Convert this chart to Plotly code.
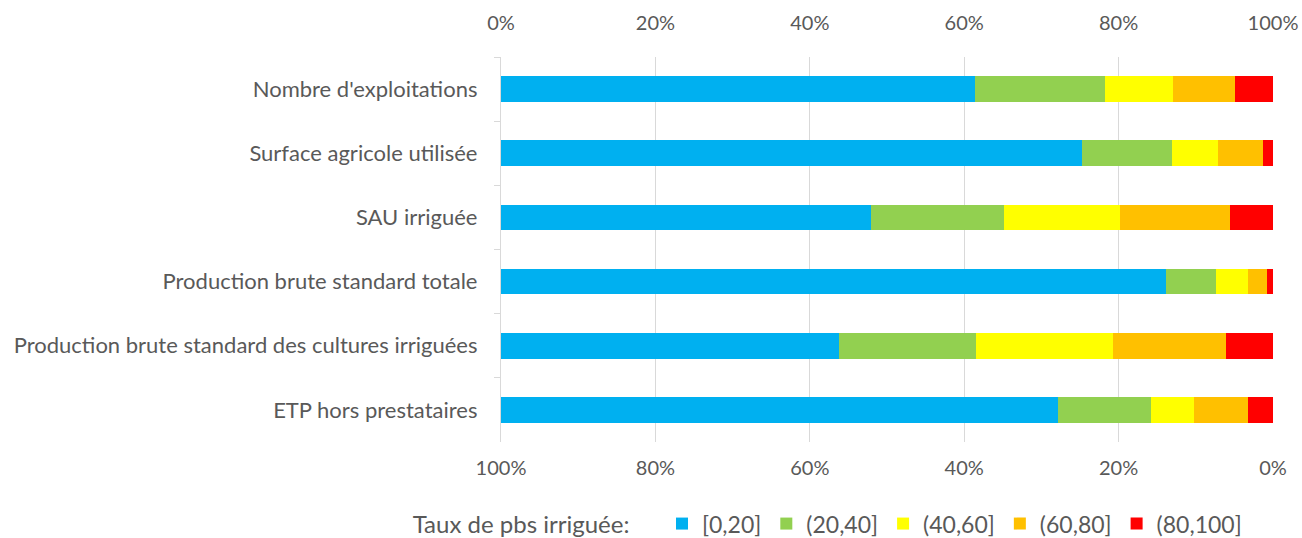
import plotly.graph_objects as go

categories = [
    "Nombre d'exploitations",
    "Surface agricole utilisée",
    "SAU irriguée",
    "Production brute standard totale",
    "Production brute standard des cultures irriguées",
    "ETP hors prestataires",
]
series_names = ["[0,20]", "(20,40]", "(40,60]", "(60,80]", "(80,100]"]
s_0_20 = [61.4, 75.3, 47.9, 86.2, 43.8, 72.2]
s_20_40 = [16.8, 11.6, 17.3, 6.4, 17.7, 12.0]
s_40_60 = [8.9, 6.0, 15.0, 4.2, 17.8, 5.6]
s_60_80 = [8.0, 5.8, 14.2, 2.4, 14.6, 6.9]
s_80_100 = [4.9, 1.3, 5.6, 0.8, 6.1, 3.3]
colors = ["#00B0F0", "#92D050", "#FFFF00", "#FFC000", "#FF0000"]
tick_values = [0, 20, 40, 60, 80, 100]
tick_labels = ["0%", "20%", "40%", "60%", "80%", "100%"]
legend_title = "Taux de pbs irriguée:"

FONT = "Lato"
GREY = "#595959"

fig = go.Figure()
for name, vals, col in zip(series_names, [s_0_20, s_20_40, s_40_60, s_60_80, s_80_100], colors):
    fig.add_trace(go.Bar(
        y=categories, x=vals, name=name, orientation="h",
        marker=dict(color=col, line=dict(width=0)),
        hoverinfo="x+y+name",
    ))

fig.update_layout(
    barmode="stack",
    bargap=0.6,
    width=1302, height=538,
    margin=dict(l=501, r=29, t=57, b=96, autoexpand=False),
    paper_bgcolor="white", plot_bgcolor="white",
    font=dict(family=FONT, size=21, color=GREY),
    xaxis=dict(
        side="top", range=[0, 100], tickvals=tick_values, ticktext=tick_labels,
        showgrid=True, gridcolor="#D9D9D9", gridwidth=1.3, zeroline=False,
        showline=False, ticks="", tickfont=dict(size=20, color=GREY),
        ticklabelstandoff=22, automargin=False,
    ),
    xaxis2=dict(
        overlaying="x", side="bottom", anchor="y", range=[100, 0],
        tickvals=tick_values, ticktext=tick_labels, showgrid=False, zeroline=False,
        showline=False, ticks="", tickfont=dict(size=20, color=GREY),
        ticklabelstandoff=12, automargin=False,
    ),
    yaxis=dict(
        autorange="reversed", showline=True, linecolor="#D9D9D9", linewidth=1.3,
        ticks="outside", tickson="boundaries", ticklen=6, tickcolor="#D9D9D9",
        tickfont=dict(size=22, color=GREY), ticklabelstandoff=18, automargin=False,
    ),
    legend=dict(
        orientation="h", x=-0.117, xanchor="left", y=-0.212, yanchor="middle",
        title=dict(text=legend_title + "\u00a0" * 4, side="left", font=dict(size=24, color=GREY)),
        font=dict(size=23, color=GREY), traceorder="normal",
        itemwidth=30,
    ),
    showlegend=True,
)
# invisible helper so the reversed bottom axis is drawn
fig.add_trace(go.Scatter(x=[None], y=[None], xaxis="x2", yaxis="y", showlegend=False, hoverinfo="skip"))

fig.write_html("out.html", config={"displayModeBar": False},
               post_script="document.body.style.margin='0';")
